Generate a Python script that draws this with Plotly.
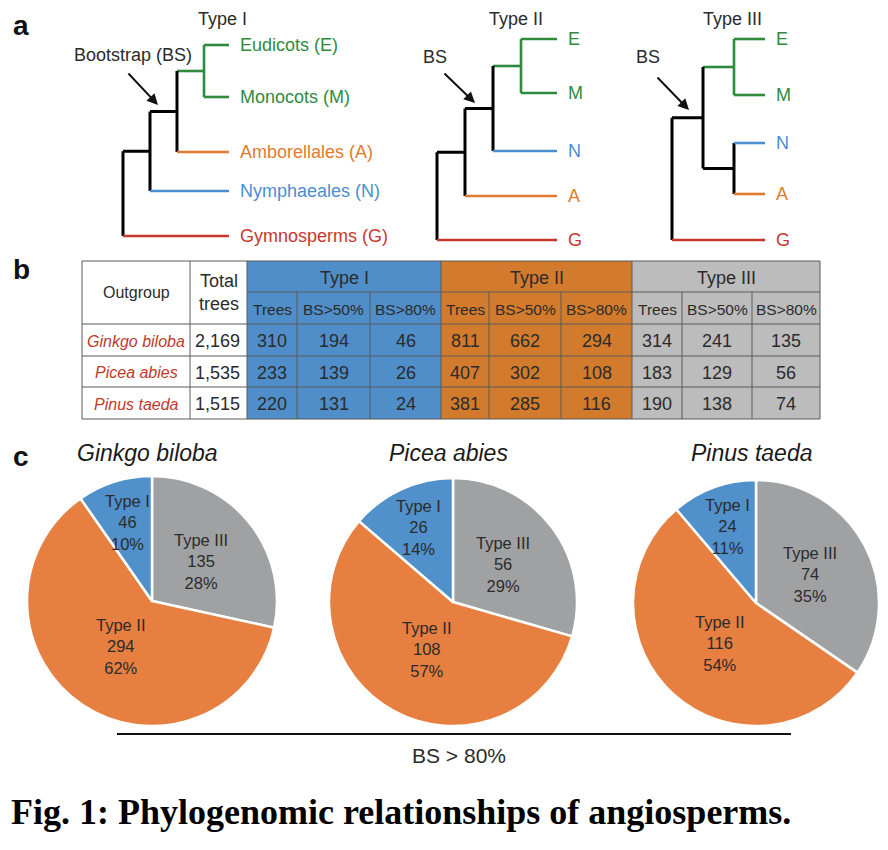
import math
import plotly.graph_objects as go

# ---------------- data ----------------
type_names = ["Type I", "Type II", "Type III"]
taxa_full = {"E": "Eudicots (E)", "M": "Monocots (M)", "A": "Amborellales (A)",
             "N": "Nymphaeales (N)", "G": "Gymnosperms (G)"}
# topologies (nested tuples)
tree_type1 = (((("E", "M"), "A"), "N"), "G")
tree_type2 = (((("E", "M"), "N"), "A"), "G")
tree_type3 = ((("E", "M"), ("N", "A")), "G")

outgroups = ["Ginkgo biloba", "Picea abies", "Pinus taeda"]
total_trees = ["2,169", "1,535", "1,515"]
sub_headers = ["Trees", "BS>50%", "BS>80%"]
type1_counts = [[310, 194, 46], [233, 139, 26], [220, 131, 24]]
type2_counts = [[811, 662, 294], [407, 302, 108], [381, 285, 116]]
type3_counts = [[314, 241, 135], [183, 129, 56], [190, 138, 74]]
pie_order = ["Type III", "Type II", "Type I"]
bs_threshold_label = "BS > 80%"
caption = "Fig. 1: Phylogenomic relationships of angiosperms."

# ---------------- styles / layout ----------------
W, H = 888, 850
OFF = 8  # page body margin compensation
FONT = "Liberation Sans, Arial, sans-serif"
TXT = "#2b2b2b"
taxa_color = {"E": "#2e8b3e", "M": "#2e8b3e", "A": "#e07a2e", "N": "#4a8fd0", "G": "#c8372d"}
table_fill = {"Type I": "#4f8ec9", "Type II": "#d27b2c", "Type III": "#bcbcbc"}
pie_fill = {"Type I": "#5090cb", "Type II": "#e67f3f", "Type III": "#a0a1a3"}
species_red = "#c0392b"

fig = go.Figure()
annotations = []
shapes = []


def ann(x, y, text, size, color=TXT, xanchor="center", yanchor="middle", family=FONT, **kw):
    annotations.append(dict(x=x, y=y, xref="x", yref="y", text=text, showarrow=False,
                            xanchor=xanchor, yanchor=yanchor,
                            font=dict(family=family, size=size, color=color), **kw))


# ---------------- panel a: trees ----------------
tree_layouts = [
    dict(tree=tree_type1, x0=123, step=27, xtip=229, full=True,
         rows={"E": 45, "M": 97, "A": 152, "N": 191, "G": 236},
         title_x=222, bs_text="Bootstrap (BS)", bs_xy=(133, 55), arrow=((127, 72), (158, 105))),
    dict(tree=tree_type2, x0=437, step=28, xtip=557, full=False,
         rows={"E": 39, "M": 93, "N": 151, "A": 196, "G": 240},
         title_x=516, bs_text="BS", bs_xy=(435, 57), arrow=((443, 72), (475, 103))),
    dict(tree=tree_type3, x0=672, step=31, xtip=765, full=False,
         rows={"E": 39, "M": 95, "N": 143, "A": 194, "G": 240},
         title_x=732, bs_text="BS", bs_xy=(648, 57), arrow=((656, 76), (689, 110))),
]


def leaves(node):
    if isinstance(node, str):
        return [node]
    out = []
    for c in node:
        out += leaves(c)
    return out


def clade_color(node):
    cols = {taxa_color[l] for l in leaves(node)}
    return cols.pop() if len(cols) == 1 else "black"


def build(node, depth, L, segs):
    """returns (x, y) of node; appends segments"""
    if isinstance(node, str):
        return L["xtip"], L["rows"][node]
    xn = L["x0"] + depth * L["step"]
    child_pos = [build(c, depth + 1, L, segs) for c in node]
    ys = [p[1] for p in child_pos]
    segs.append(((xn, min(ys)), (xn, max(ys)), clade_color(node)))
    for c, (cx, cy) in zip(node, child_pos):
        segs.append(((xn, cy), (cx, cy), clade_color(c)))
    return xn, sum(ys) / len(ys)


for ti, L in enumerate(tree_layouts):
    segs = []
    build(L["tree"], 0, L, segs)
    by_color = {}
    for (a, b, col) in segs:
        by_color.setdefault(col, ([], []))
        by_color[col][0].extend([a[0], b[0], None])
        by_color[col][1].extend([a[1], b[1], None])
    for col, (xs, ys) in by_color.items():
        fig.add_trace(go.Scatter(x=xs, y=ys, mode="lines", hoverinfo="skip", showlegend=False,
                                 line=dict(color=col, width=3 if col == "black" else 2.6)))
    for leaf, y in L["rows"].items():
        label = taxa_full[leaf] if L["full"] else leaf
        ann(L["xtip"] + 9, y, label, 18, color=taxa_color[leaf], xanchor="left")
    ann(L["title_x"], 19, type_names[ti], 18)
    ann(L["bs_xy"][0], L["bs_xy"][1], L["bs_text"], 18)
    (ax_, ay_), (hx, hy) = L["arrow"]
    annotations.append(dict(x=hx, y=hy, ax=ax_, ay=ay_, xref="x", yref="y", axref="x", ayref="y",
                            text="", showarrow=True, arrowhead=2, arrowsize=1.1, arrowwidth=2,
                            arrowcolor="#111"))

# ---------------- panel b: table ----------------
col_edges = [82, 190, 247, 297, 370, 441, 489, 561, 632, 682, 752, 820]
row_edges = [261, 292, 324, 356, 387, 419]
grid = "#5a5a5a"

groups = [("Type I", type1_counts), ("Type II", type2_counts), ("Type III", type3_counts)]
for gi, (gname, counts) in enumerate(groups):
    x_a = col_edges[2 + 3 * gi]
    x_b = col_edges[5 + 3 * gi]
    shapes.append(dict(type="rect", xref="x", yref="y", x0=x_a, x1=x_b, y0=row_edges[0], y1=row_edges[-1],
                       fillcolor=table_fill[gname], line=dict(width=0), layer="below"))
    ann((x_a + x_b) / 2, (row_edges[0] + row_edges[1]) / 2 + 1, gname, 18)
    for j in range(3):
        xa, xb = col_edges[2 + 3 * gi + j], col_edges[3 + 3 * gi + j]
        xc = (xa + xb) / 2
        ann(xc, (row_edges[1] + row_edges[2]) / 2 + 1, sub_headers[j], 15.5)
        for i in range(3):
            ann(xc, (row_edges[2 + i] + row_edges[3 + i]) / 2 + 1, str(counts[i][j]), 18)

# grid lines
line_specs = []
line_specs.append((col_edges[0], col_edges[-1], row_edges[0], row_edges[0]))
line_specs.append((col_edges[2], col_edges[-1], row_edges[1], row_edges[1]))
for r in row_edges[2:]:
    line_specs.append((col_edges[0], col_edges[-1], r, r))
for k, c in enumerate(col_edges):
    if k in (3, 4, 6, 7, 9, 10):
        line_specs.append((c, c, row_edges[1], row_edges[-1]))
    else:
        line_specs.append((c, c, row_edges[0], row_edges[-1]))
for (x0, x1, y0, y1) in line_specs:
    shapes.append(dict(type="line", xref="x", yref="y", x0=x0, x1=x1, y0=y0, y1=y1,
                       line=dict(color=grid, width=1)))

ann((col_edges[0] + col_edges[1]) / 2, (row_edges[0] + row_edges[2]) / 2, "Outgroup", 16)
ann((col_edges[1] + col_edges[2]) / 2, (row_edges[0] + row_edges[2]) / 2, "Total<br>trees", 18)
for i in range(3):
    yc = (row_edges[2 + i] + row_edges[3 + i]) / 2 + 1
    ann((col_edges[0] + col_edges[1]) / 2, yc, "<i>%s</i>" % outgroups[i], 16, color=species_red)
    ann((col_edges[1] + col_edges[2]) / 2 - 1, yc, total_trees[i], 18)

# ---------------- panel c: pies ----------------
pie_geo = [(152, 601, 125), (453, 602, 124), (756, 603, 123)]
label_frac = {"Type I": 0.66, "Type II": 0.44, "Type III": 0.5}
count_lookup = {"Type I": type1_counts, "Type II": type2_counts, "Type III": type3_counts}
FW, FH = W - OFF, H - OFF

for i, (cx, cy, r) in enumerate(pie_geo):
    vals = [count_lookup[t][i][2] for t in pie_order]
    fig.add_trace(go.Pie(
        values=vals, labels=pie_order, sort=False, direction="clockwise", rotation=0,
        marker=dict(colors=[pie_fill[t] for t in pie_order], line=dict(color="white", width=2.5)),
        textinfo="none", hoverinfo="label+value+percent", showlegend=False,
        domain=dict(x=[(cx - r - OFF) / FW, (cx + r - OFF) / FW],
                    y=[1 - (cy + r - OFF) / FH, 1 - (cy - r - OFF) / FH]),
    ))
    total = sum(vals)
    cum = 0
    for t, v in zip(pie_order, vals):
        mid = (cum + v / 2) / total * 2 * math.pi
        cum += v
        d = label_frac[t] * r
        lx = cx + d * math.sin(mid)
        ly = cy - d * math.cos(mid)
        pct = round(100 * v / total)
        ann(lx, ly, "%s<br>%d<br>%d%%" % (t, v, pct), 16.5)
    ann(cx - 5, 453, "<i>%s</i>" % outgroups[i], 23, color="#1a1a1a")

shapes.append(dict(type="line", xref="x", yref="y", x0=117, x1=791, y0=734, y1=734,
                   line=dict(color="#111", width=2)))
ann(459, 755, bs_threshold_label, 21)

# panel letters
for letter, (lx, ly) in zip(["a", "b", "c"], [(11, 25), (11, 269), (11, 456)]):
    ann(lx, ly, "<b>%s</b>" % letter, 28, color="#111", xanchor="left")

# caption
ann(9, 812, "<b>%s</b>" % caption, 36, color="black", xanchor="left",
    family="Liberation Serif, Times New Roman, serif")

fig.update_layout(
    width=FW, height=FH, margin=dict(l=0, r=0, t=0, b=0),
    paper_bgcolor="white", plot_bgcolor="white",
    xaxis=dict(range=[OFF, W], visible=False, fixedrange=True, domain=[0, 1]),
    yaxis=dict(range=[H, OFF], visible=False, fixedrange=True, domain=[0, 1]),
    annotations=annotations, shapes=shapes, showlegend=False,
)
fig.write_html("out.html")
